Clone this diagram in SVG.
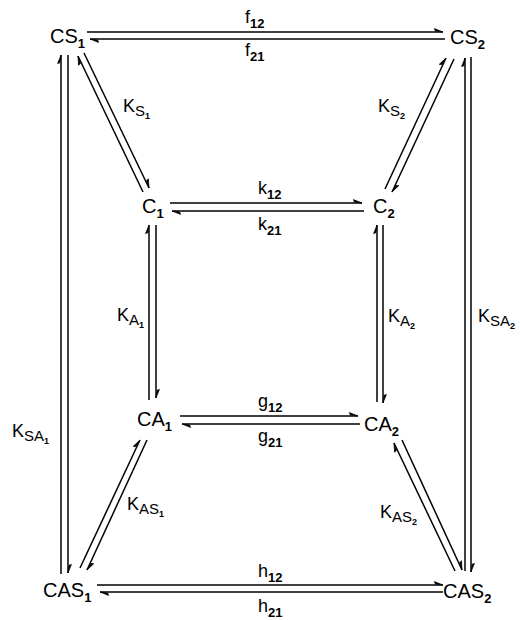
<svg xmlns="http://www.w3.org/2000/svg" width="520" height="620" viewBox="0 0 520 620">
<defs>
<marker id="h" markerUnits="userSpaceOnUse" orient="auto" markerWidth="12" markerHeight="12" refX="0" refY="0" viewBox="-12 -6 14 12" overflow="visible">
<path d="M0,0 L-10,-4 L-9,-1.2 Z" fill="#000" stroke="#000" stroke-width="0.8" stroke-linejoin="round"/>
</marker>
</defs>
<style>
.n{font-family:"Liberation Sans",Arial,sans-serif;font-size:20px;fill:#000}
.l{font-family:"Liberation Sans",Arial,sans-serif;font-size:18px;fill:#000}
.s{font-size:13px;font-weight:bold}
.s2{font-size:15px}
.ss{font-size:9px;font-weight:bold}
.c line{stroke:#000;stroke-width:1.5;marker-end:url(#h)}
</style>
<rect width="520" height="620" fill="#fff"/>
<g id="connectors" class="c">
<line x1="87" y1="32" x2="443" y2="32"/>
<line x1="445" y1="39" x2="90" y2="39"/>
<line x1="170" y1="203" x2="362" y2="203"/>
<line x1="364" y1="211" x2="172" y2="211"/>
<line x1="180" y1="416" x2="358" y2="416"/>
<line x1="360" y1="424" x2="182" y2="424"/>
<line x1="97" y1="585" x2="443" y2="585"/>
<line x1="443" y1="592" x2="100" y2="592"/>
<line x1="61" y1="574" x2="61" y2="55"/>
<line x1="68" y1="55" x2="68" y2="573"/>
<line x1="465" y1="571" x2="465" y2="58"/>
<line x1="471" y1="57" x2="471" y2="572"/>
<line x1="149" y1="400" x2="149" y2="225"/>
<line x1="156" y1="225" x2="156" y2="398"/>
<line x1="377" y1="402" x2="377" y2="225"/>
<line x1="383" y1="225" x2="383" y2="403"/>
<line x1="143" y1="192" x2="78" y2="56"/>
<line x1="84" y1="53" x2="149" y2="188"/>
<line x1="385" y1="189" x2="446" y2="58"/>
<line x1="454" y1="59" x2="392" y2="192"/>
<line x1="80" y1="568" x2="140" y2="440"/>
<line x1="147" y1="440" x2="87" y2="570"/>
<line x1="455" y1="571" x2="394" y2="443"/>
<line x1="402" y1="440" x2="462" y2="570"/>
</g>
<g id="CS1"><text class="n" x="50" y="43">CS<tspan class="s" dy="5">1</tspan></text></g>
<g id="CS2"><text class="n" x="450" y="44">CS<tspan class="s" dy="5">2</tspan></text></g>
<g id="C1"><text class="n" x="142" y="213">C<tspan class="s" dy="5">1</tspan></text></g>
<g id="C2"><text class="n" x="373" y="213">C<tspan class="s" dy="5">2</tspan></text></g>
<g id="CA1"><text class="n" x="137" y="426">CA<tspan class="s" dy="5">1</tspan></text></g>
<g id="CA2"><text class="n" x="364" y="431">CA<tspan class="s" dy="5">2</tspan></text></g>
<g id="CAS1"><text class="n" x="43" y="597">CAS<tspan class="s" dy="5">1</tspan></text></g>
<g id="CAS2"><text class="n" x="443" y="598">CAS<tspan class="s" dy="5">2</tspan></text></g>
<g id="labels">
<text class="l" x="245" y="23">f<tspan class="s" dy="5">12</tspan></text>
<text class="l" x="245" y="56">f<tspan class="s" dy="5">21</tspan></text>
<text class="l" x="258" y="194">k<tspan class="s" dy="5">12</tspan></text>
<text class="l" x="258" y="230">k<tspan class="s" dy="5">21</tspan></text>
<text class="l" x="258" y="407">g<tspan class="s" dy="5">12</tspan></text>
<text class="l" x="258" y="442">g<tspan class="s" dy="5">21</tspan></text>
<text class="l" x="258" y="577">h<tspan class="s" dy="5">12</tspan></text>
<text class="l" x="258" y="612">h<tspan class="s" dy="5">21</tspan></text>
<text class="l" x="123" y="112">K<tspan class="s2" dy="4">S</tspan><tspan class="ss" dy="3">1</tspan></text>
<text class="l" x="378" y="112">K<tspan class="s2" dy="4">S</tspan><tspan class="ss" dy="3">2</tspan></text>
<text class="l" x="117" y="321">K<tspan class="s2" dy="4">A</tspan><tspan class="ss" dy="3">1</tspan></text>
<text class="l" x="388" y="322">K<tspan class="s2" dy="4">A</tspan><tspan class="ss" dy="3">2</tspan></text>
<text class="l" x="12" y="437">K<tspan class="s2" dy="4">SA</tspan><tspan class="ss" dy="3">1</tspan></text>
<text class="l" x="478" y="322">K<tspan class="s2" dy="4">SA</tspan><tspan class="ss" dy="3">2</tspan></text>
<text class="l" x="127" y="510">K<tspan class="s2" dy="4">AS</tspan><tspan class="ss" dy="3">1</tspan></text>
<text class="l" x="380" y="518">K<tspan class="s2" dy="4">AS</tspan><tspan class="ss" dy="3">2</tspan></text>
</g>
</svg>
